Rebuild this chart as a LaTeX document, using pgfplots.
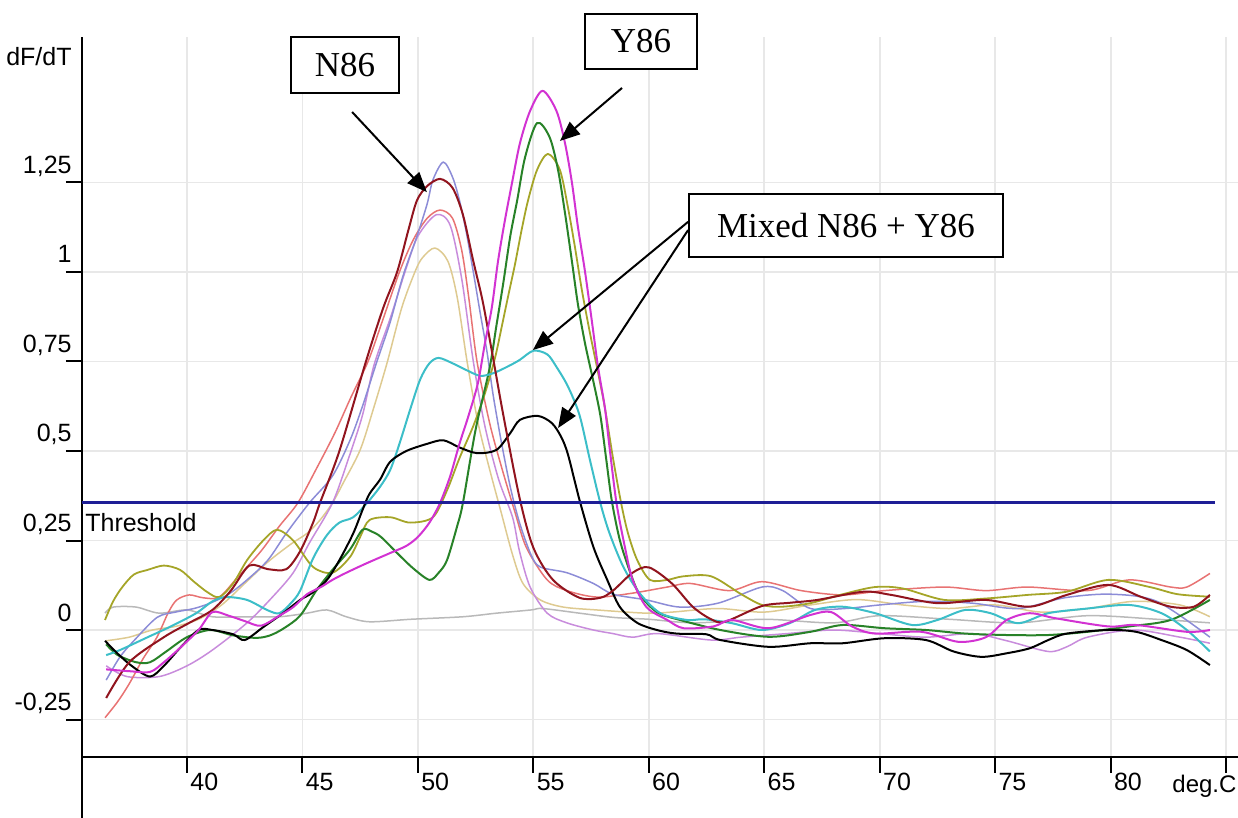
\documentclass[border=0pt]{standalone}
\usepackage{fontspec}
\setmainfont{Liberation Sans}
\newfontfamily\timesfont{Liberation Serif}
\usepackage{pgfplots}
\pgfplotsset{compat=1.18}
\usetikzlibrary{arrows.meta}
\definecolor{cDarkRed}{RGB}{145,20,30}
\definecolor{cLav}{RGB}{140,140,215}
\definecolor{cSalmon}{RGB}{232,115,115}
\definecolor{cOrchid}{RGB}{200,140,220}
\definecolor{cTan}{RGB}{222,202,145}
\definecolor{cMag}{RGB}{210,50,210}
\definecolor{cGreen}{RGB}{40,130,40}
\definecolor{cOlive}{RGB}{165,165,40}
\definecolor{cCyan}{RGB}{60,190,200}
\definecolor{cGray}{RGB}{185,185,185}
\definecolor{cThr}{RGB}{30,30,150}
\definecolor{cGrid}{RGB}{232,232,232}
\begin{document}
\begin{tikzpicture}
\useasboundingbox (0,0) rectangle (619pt,409pt);
\begin{axis}[
  at={(41pt,30.5pt)}, anchor=south west,
  scale only axis, width=578pt, height=360pt,
  xmin=35.453, xmax=85.517, ymin=-0.3547, ymax=1.6564,
  axis x line*=bottom, axis y line*=left,
  axis line style={line width=1.2pt, -},
  xtick={40,45,...,85}, xticklabels={40,45,50,55,60,65,70,75,80,{}},
  ytick={-0.25,0,0.25,0.5,0.75,1,1.25},
  yticklabels={{-0,25},{0},{0,25},{0,5},{0,75},{1},{1,25}},
  tick align=outside, major tick length=8pt,
  tick style={line width=1pt, black},
  grid=major, grid style={line width=0.9pt, color=cGrid},
  tick label style={font=\fontsize{12.5}{15}\selectfont},
  xticklabel style={anchor=north west, inner sep=0pt, xshift=1.5pt},
  yticklabel style={anchor=base east, inner sep=0pt, xshift=3pt, yshift=4.5pt},
  clip=false,
  every axis plot/.append style={smooth, line join=round},
]
% gray
\addplot[cGray, line width=0.75pt] coordinates {(36.45,0.047) (36.8,0.064) (37.8,0.064) (38.8,0.047) (40.0,0.056) (41.1,0.037) (42.6,0.037) (44.0,0.037) (45.2,0.047) (46.06,0.056) (46.9,0.037) (47.9,0.023) (49.7,0.03) (51.95,0.037) (53.4,0.047) (54.9,0.056) (55.4,0.06) (57.0,0.047) (58.5,0.035) (60.0,0.03) (62.0,0.02) (65.0,0.03) (68.0,0.02) (70.0,0.04) (73.0,0.03) (76.0,0.02) (79.0,0.04) (82.0,0.03) (84.3,0.02)};
% tan
\addplot[cTan, line width=0.75pt] coordinates {(36.5,-0.03) (37.5,-0.02) (38.5,0.0) (39.5,0.01) (40.5,0.03) (41.5,0.07) (42.5,0.13) (43.5,0.19) (44.5,0.24) (45.2,0.27) (45.76,0.307) (46.3,0.355) (46.76,0.41) (47.5,0.503) (48.06,0.615) (48.66,0.745) (49.3,0.90) (49.87,1.0) (50.2,1.04) (50.74,1.067) (51.3,1.03) (51.7,0.93) (52.13,0.75) (52.6,0.58) (53.1,0.45) (53.6,0.33) (54.1,0.21) (54.55,0.13) (55.3,0.084) (56.3,0.064) (57.75,0.056) (59.9,0.047) (61.0,0.05) (63.0,0.06) (65.0,0.05) (67.0,0.07) (69.0,0.085) (71.0,0.07) (73.0,0.06) (75.0,0.07) (77.0,0.05) (79.0,0.06) (81.0,0.08) (83.0,0.07) (84.3,0.037)};
% orchid
\addplot[cOrchid, line width=0.75pt] coordinates {(36.5,-0.10) (37.4,-0.13) (38.8,-0.13) (40.0,-0.10) (41.1,-0.056) (42.6,0.02) (43.7,0.092) (44.6,0.16) (45.3,0.243) (46.3,0.355) (47.0,0.48) (47.6,0.60) (48.1,0.74) (48.8,0.87) (49.44,1.0) (50.0,1.10) (50.8,1.16) (51.4,1.13) (51.9,0.98) (52.4,0.75) (52.9,0.57) (53.5,0.42) (54.1,0.315) (54.4,0.22) (54.86,0.12) (55.6,0.047) (56.45,0.02) (57.6,0.0) (58.45,-0.01) (59.3,-0.02) (60.4,-0.01) (62.7,-0.028) (64.0,-0.02) (66.0,-0.01) (68.0,0.0) (70.0,-0.01) (72.0,-0.02) (74.0,-0.01) (75.5,-0.03) (77.3,-0.06) (78.1,-0.047) (79.0,-0.02) (81.0,0.0) (83.0,-0.02) (84.3,-0.037)};
% salmon
\addplot[cSalmon, line width=0.75pt] coordinates {(36.45,-0.245) (37.0,-0.2) (37.5,-0.15) (38.1,-0.08) (38.7,-0.02) (39.2,0.05) (39.56,0.084) (40.1,0.098) (40.7,0.09) (41.4,0.092) (42.2,0.148) (43.2,0.22) (44.0,0.29) (44.8,0.355) (45.6,0.45) (46.4,0.55) (47.1,0.65) (47.84,0.75) (48.5,0.87) (49.2,1.0) (49.8,1.09) (50.4,1.15) (50.96,1.173) (51.5,1.15) (51.9,1.06) (52.2,0.93) (52.56,0.75) (53.1,0.58) (53.6,0.46) (54.2,0.33) (54.7,0.23) (55.6,0.14) (56.45,0.11) (57.75,0.092) (59.3,0.103) (60.8,0.12) (61.8,0.13) (63.5,0.11) (64.9,0.135) (66.6,0.11) (68.4,0.098) (70.2,0.11) (72.8,0.12) (74.6,0.11) (76.4,0.12) (79.0,0.11) (80.8,0.14) (82.6,0.12) (83.3,0.12) (84.3,0.158)};
% lavender
\addplot[cLav, line width=0.75pt] coordinates {(36.5,-0.14) (37.1,-0.075) (37.7,-0.03) (38.7,0.035) (39.5,0.05) (40.3,0.06) (41.0,0.075) (41.8,0.10) (42.6,0.14) (43.5,0.195) (44.3,0.27) (45.3,0.355) (46.3,0.43) (47.06,0.53) (47.6,0.625) (48.2,0.745) (48.8,0.86) (49.36,0.99) (49.96,1.10) (50.4,1.19) (50.65,1.257) (51.1,1.307) (51.5,1.265) (51.8,1.20) (52.1,1.11) (52.4,1.0) (52.7,0.885) (53.0,0.774) (53.25,0.66) (53.6,0.53) (54.0,0.40) (54.4,0.30) (54.9,0.21) (55.3,0.176) (56.45,0.16) (57.6,0.13) (58.45,0.10) (59.9,0.084) (61.35,0.064) (63.0,0.075) (64.9,0.12) (65.8,0.11) (67.0,0.06) (68.5,0.06) (70.0,0.07) (72.0,0.08) (74.0,0.075) (76.0,0.06) (78.0,0.09) (80.0,0.10) (82.0,0.08) (84.3,-0.02)};
% olive
\addplot[cOlive, line width=0.9pt] coordinates {(36.45,0.028) (36.8,0.08) (37.2,0.12) (37.7,0.155) (38.3,0.168) (39.0,0.18) (39.7,0.168) (40.3,0.135) (40.9,0.105) (41.4,0.092) (42.0,0.13) (42.6,0.195) (43.3,0.25) (43.9,0.28) (44.6,0.25) (45.46,0.176) (46.3,0.16) (47.06,0.204) (47.5,0.26) (47.9,0.307) (48.8,0.315) (49.66,0.30) (50.65,0.315) (51.26,0.39) (51.8,0.48) (52.4,0.57) (52.9,0.66) (53.34,0.76) (53.64,0.85) (53.9,0.93) (54.2,1.02) (54.5,1.12) (54.77,1.20) (55.16,1.285) (55.63,1.33) (56.15,1.285) (56.5,1.18) (56.8,1.07) (57.1,0.95) (57.45,0.83) (57.8,0.72) (58.1,0.62) (58.45,0.48) (58.8,0.355) (59.1,0.27) (59.5,0.195) (60.05,0.14) (60.8,0.14) (61.5,0.15) (62.7,0.15) (64.0,0.10) (64.9,0.07) (65.75,0.065) (67.0,0.075) (68.4,0.10) (69.8,0.12) (71.0,0.116) (72.8,0.084) (74.6,0.088) (76.4,0.098) (78.1,0.107) (79.9,0.14) (81.7,0.12) (82.9,0.10) (84.3,0.093)};
% green
\addplot[cGreen, line width=1pt] coordinates {(36.5,-0.04) (37.0,-0.07) (37.8,-0.09) (38.4,-0.09) (39.1,-0.06) (40.0,-0.02) (41.0,0.0) (42.0,-0.015) (43.0,-0.022) (43.6,-0.015) (44.2,0.005) (44.9,0.04) (45.6,0.11) (46.3,0.168) (47.06,0.225) (47.6,0.28) (48.0,0.275) (48.4,0.26) (49.1,0.215) (49.8,0.172) (50.5,0.14) (50.9,0.16) (51.26,0.195) (51.7,0.29) (51.95,0.355) (52.5,0.56) (53.1,0.73) (53.4,0.85) (53.7,0.97) (54.0,1.10) (54.3,1.20) (54.64,1.32) (55.16,1.416) (55.7,1.377) (56.07,1.285) (56.37,1.165) (56.67,1.03) (56.93,0.91) (57.24,0.80) (57.58,0.70) (57.9,0.60) (58.15,0.48) (58.4,0.36) (58.75,0.25) (59.2,0.16) (59.6,0.10) (60.35,0.05) (61.35,0.028) (63.1,0.0) (65.2,-0.019) (67.0,-0.005) (68.4,0.014) (70.2,0.005) (72.0,0.0) (73.7,-0.01) (75.5,-0.014) (77.3,-0.014) (79.0,-0.005) (80.8,0.01) (82.6,0.028) (84.3,0.084)};
% cyan
\addplot[cCyan, line width=1pt] coordinates {(36.5,-0.07) (37.1,-0.056) (38.3,-0.02) (39.3,0.01) (40.4,0.047) (41.1,0.08) (41.7,0.092) (42.6,0.084) (43.5,0.055) (44.0,0.047) (44.5,0.075) (44.9,0.11) (45.46,0.20) (46.06,0.265) (46.6,0.30) (47.2,0.315) (47.8,0.355) (48.36,0.40) (48.8,0.447) (49.2,0.52) (49.66,0.615) (50.1,0.70) (50.5,0.745) (50.9,0.76) (51.5,0.745) (52.1,0.726) (52.7,0.71) (53.25,0.717) (53.86,0.735) (54.4,0.754) (55.0,0.78) (55.6,0.77) (56.0,0.735) (56.5,0.68) (57.0,0.60) (57.45,0.475) (57.9,0.355) (58.3,0.27) (58.9,0.176) (59.6,0.103) (60.5,0.047) (61.65,0.028) (62.4,0.03) (63.6,0.019) (64.9,0.0) (66.1,0.019) (67.2,0.056) (68.4,0.065) (69.8,0.047) (71.4,0.014) (72.5,0.028) (73.7,0.056) (74.8,0.047) (76.0,0.019) (77.3,0.047) (79.0,0.06) (80.8,0.07) (82.2,0.047) (83.3,0.0) (84.3,-0.06)};
% black
\addplot[black, line width=1pt] coordinates {(36.45,-0.03) (36.9,-0.06) (37.6,-0.10) (38.4,-0.13) (39.0,-0.10) (39.7,-0.05) (40.5,0.0) (41.1,0.0) (42.0,-0.012) (42.5,-0.028) (43.3,0.008) (44.16,0.047) (44.9,0.084) (45.4,0.103) (46.06,0.14) (46.6,0.195) (47.2,0.27) (47.6,0.335) (47.9,0.38) (48.36,0.42) (48.8,0.47) (49.5,0.50) (50.4,0.52) (51.1,0.53) (51.8,0.51) (52.56,0.494) (53.4,0.503) (54.0,0.55) (54.42,0.587) (55.2,0.598) (55.8,0.578) (56.2,0.54) (56.5,0.49) (57.0,0.363) (57.6,0.232) (58.2,0.14) (58.75,0.064) (59.5,0.02) (60.35,0.0) (61.2,-0.01) (62.5,-0.012) (63.1,-0.028) (65.2,-0.047) (67.0,-0.037) (68.4,-0.037) (70.2,-0.023) (72.0,-0.028) (73.2,-0.06) (74.4,-0.075) (75.5,-0.065) (76.5,-0.051) (77.3,-0.028) (78.1,-0.01) (79.9,0.0) (81.1,-0.005) (82.2,-0.028) (83.3,-0.056) (84.3,-0.098)};
% dark red
\addplot[cDarkRed, line width=1pt] coordinates {(36.5,-0.19) (37.5,-0.09) (39.0,-0.02) (40.1,0.02) (41.1,0.056) (41.9,0.11) (42.7,0.18) (43.5,0.17) (44.3,0.17) (44.9,0.22) (45.46,0.30) (45.76,0.355) (46.6,0.50) (47.75,0.75) (48.5,0.90) (49.1,1.00) (49.6,1.12) (49.96,1.20) (50.4,1.24) (50.96,1.26) (51.5,1.235) (51.95,1.16) (52.4,1.03) (52.8,0.92) (53.2,0.78) (53.7,0.60) (54.4,0.37) (55.0,0.23) (55.85,0.14) (57.0,0.09) (57.9,0.09) (58.45,0.11) (59.3,0.16) (60.0,0.175) (61.0,0.13) (61.9,0.065) (62.7,0.03) (63.3,0.023) (64.9,0.067) (66.1,0.076) (67.3,0.084) (69.3,0.107) (70.5,0.098) (72.5,0.075) (74.6,0.084) (76.5,0.065) (78.1,0.098) (79.9,0.126) (81.3,0.093) (82.6,0.065) (83.6,0.065) (84.3,0.098)};
% magenta
\addplot[cMag, line width=1pt] coordinates {(36.5,-0.11) (37.5,-0.115) (38.4,-0.117) (39.0,-0.09) (39.7,-0.05) (40.5,0.0) (41.1,0.05) (41.8,0.04) (42.5,0.025) (43.2,0.012) (44.0,0.04) (44.6,0.064) (45.2,0.10) (45.8,0.12) (46.3,0.14) (46.9,0.16) (47.8,0.187) (48.8,0.215) (49.5,0.235) (50.0,0.26) (50.5,0.30) (50.96,0.355) (51.4,0.43) (51.8,0.52) (52.2,0.60) (52.6,0.69) (52.9,0.80) (53.2,0.90) (53.47,1.03) (53.77,1.145) (54.08,1.25) (54.42,1.36) (54.86,1.45) (55.4,1.506) (56.0,1.45) (56.37,1.36) (56.67,1.25) (56.93,1.126) (57.24,1.0) (57.54,0.86) (57.8,0.735) (58.1,0.62) (58.3,0.51) (58.6,0.355) (58.97,0.23) (59.3,0.14) (59.9,0.064) (60.8,0.028) (61.5,0.005) (62.8,0.01) (63.6,0.028) (65.2,0.005) (67.0,0.042) (67.9,0.05) (68.8,0.01) (69.8,-0.01) (71.8,-0.005) (73.4,-0.033) (74.6,-0.02) (75.5,0.028) (76.5,0.047) (77.6,0.033) (79.9,0.01) (81.1,0.014) (83.3,-0.005) (84.3,0.0)};
% threshold
\addplot[cThr, line width=1.5pt, sharp plot] coordinates {(35.453,0.355) (84.52,0.355)};
\node[anchor=base west, inner sep=0pt, font=\fontsize{12.5}{15}\selectfont] at (axis cs:35.58,0.274) {Threshold};
% extend y axis below x axis
\draw[line width=1.2pt] (rel axis cs:0,0) -- ++(0pt,-31pt);
% axis names
\node[anchor=base east, inner sep=0pt, font=\fontsize{12.5}{15}\selectfont] at (axis cs:35.02,1.578) {dF/dT};
\node[anchor=base west, inner sep=0pt, font=\fontsize{12}{14}\selectfont] at (axis cs:82.66,-0.4525) {deg.C};
% annotations
\draw[line width=1pt, -{Triangle[length=10pt,width=8pt]}] (axis cs:47.15,1.447) -- (axis cs:50.39,1.223);
\draw[line width=1pt, -{Triangle[length=10pt,width=8pt]}] (axis cs:58.84,1.514) -- (axis cs:56.15,1.366);
\draw[line width=1pt, -{Triangle[length=10pt,width=8pt]}] (axis cs:61.70,1.14) -- (axis cs:54.98,0.782);
\draw[line width=1pt, -{Triangle[length=10pt,width=8pt]}] (axis cs:61.70,1.117) -- (axis cs:56.07,0.564);
\node[draw, line width=0.8pt, fill=white, minimum width=54pt, minimum height=28pt, inner sep=0pt, font=\timesfont\fontsize{17.5}{20}\selectfont] at (axis cs:46.84,1.578) {N86};
\node[draw, line width=0.8pt, fill=white, minimum width=56pt, minimum height=27.5pt, inner sep=0pt, font=\timesfont\fontsize{17.5}{20}\selectfont] at (axis cs:59.66,1.644) {Y86};
\node[draw, line width=0.8pt, fill=white, minimum width=157pt, minimum height=31.5pt, inner sep=0pt, font=\timesfont\fontsize{17.5}{20}\selectfont] at (axis cs:68.54,1.13) {Mixed N86 + Y86};
\end{axis}
\end{tikzpicture}
\end{document}
